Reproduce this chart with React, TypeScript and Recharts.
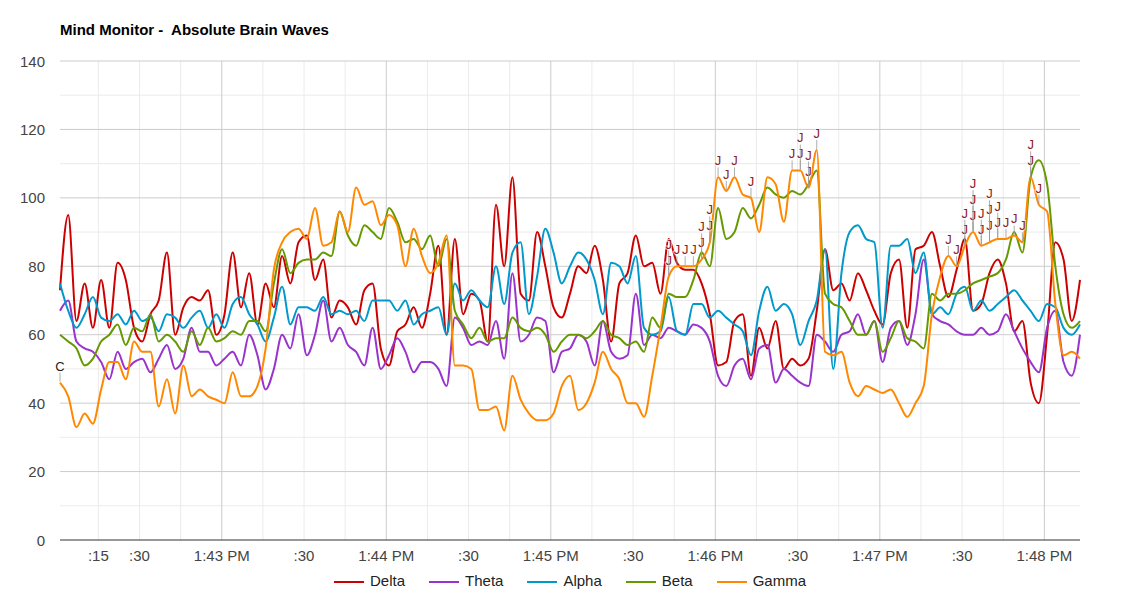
import React from "react";
import { LineChart, Line, XAxis, YAxis, CartesianGrid } from "recharts";

// ---- Data (one sample every 3 s, starting 1:42:01 PM) ----
const startSecond = 1; // seconds after 1:42:00 PM
const stepSeconds = 3;

const deltaValues = [
  73, 95, 64, 75, 62, 76, 62, 81, 76, 62,
  58, 66, 70, 84, 60, 68, 71, 70, 73, 60,
  66, 84, 68, 78, 63, 75, 68, 83, 75, 87,
  89, 76, 82, 65, 70, 68, 63, 73, 75, 56,
  51, 61, 63, 68, 62, 72, 86, 60, 88, 66,
  72, 70, 58, 98, 80, 106, 72, 70, 90, 80,
  68, 65, 72, 80, 78, 86, 76, 58, 75, 78,
  89, 80, 81, 72, 88, 81, 79, 79, 75, 66,
  51, 52, 64, 66, 48, 62, 56, 64, 50, 53,
  51, 53, 67, 85, 73, 75, 70, 78, 73, 67,
  63, 78, 82, 62, 85, 86, 90, 80, 71, 79,
  88, 67, 69, 78, 82, 75, 61, 64, 46, 40,
  60, 87, 82, 64, 76,
];

const thetaValues = [
  67, 70, 58, 56, 55, 52, 47, 55, 50, 52,
  53, 49, 53, 57, 50, 53, 62, 55, 55, 51,
  53, 55, 51, 60, 54, 44, 50, 60, 56, 66,
  54, 60, 70, 58, 62, 57, 55, 51, 62, 50,
  54, 59, 55, 49, 52, 52, 50, 45, 65, 62,
  57, 58, 57, 64, 53, 78, 58, 60, 65, 64,
  49, 55, 56, 60, 58, 51, 64, 55, 53, 54,
  72, 57, 60, 59, 62, 61, 60, 63, 62, 58,
  48, 45, 51, 53, 47, 56, 57, 46, 50, 48,
  46, 45, 60, 58, 55, 60, 61, 66, 60, 64,
  52, 62, 64, 57, 66, 82, 66, 64, 63, 61,
  60, 60, 62, 60, 61, 66, 61, 56, 52, 49,
  62, 67, 52, 48, 60,
];

const alphaValues = [
  75, 67, 62, 66, 71, 65, 64, 66, 63, 67,
  64, 65, 61, 66, 65, 62, 65, 67, 62, 66,
  62, 69, 71, 66, 63, 58, 65, 74, 63, 68,
  68, 67, 71, 66, 67, 66, 67, 64, 70, 70,
  70, 67, 70, 63, 66, 67, 68, 60, 75, 70,
  73, 70, 68, 80, 69, 84, 87, 66, 77, 91,
  84, 75, 80, 84, 82, 76, 66, 81, 80, 75,
  83, 62, 60, 61, 71, 61, 60, 69, 69, 65,
  67, 65, 63, 61, 54, 67, 74, 67, 69, 66,
  57, 64, 70, 85, 50, 78, 90, 92, 88, 87,
  62, 86, 86, 88, 78, 84, 66, 68, 66, 72,
  74, 67, 70, 67, 69, 71, 73, 70, 67, 64,
  69, 68, 62, 60, 63,
];

const betaValues = [
  60, 58, 56, 51, 53, 58, 60, 63, 57, 62,
  61, 66, 58, 60, 58, 55, 61, 57, 62, 58,
  59, 61, 60, 64, 64, 61, 75, 85, 78, 81,
  82, 82, 84, 83, 96, 89, 86, 92, 90, 88,
  97, 93, 87, 88, 85, 89, 80, 88, 67, 63,
  59, 62, 58, 59, 59, 65, 62, 61, 62, 60,
  55, 58, 60, 60, 59, 61, 64, 60, 59, 57,
  58, 55, 65, 62, 72, 71, 71, 76, 84, 80,
  97, 88, 90, 97, 94, 98, 103, 101, 100, 102,
  101, 104, 108, 72, 69, 68, 64, 60, 60, 64,
  55, 59, 64, 59, 58, 56, 72, 70, 72, 72,
  73, 75, 76, 77, 78, 82, 90, 84, 106, 111,
  104, 80, 66, 62, 64,
];

const gammaValues = [
  46, 42, 33, 37, 34, 44, 52, 52, 47, 58,
  55, 55, 39, 47, 37, 51, 42, 44, 42, 41,
  40, 49, 42, 42, 45, 56, 79, 87, 90, 91,
  88, 97, 86, 87, 96, 90, 103, 98, 99, 92,
  95, 92, 80, 91, 83, 78, 81, 89, 51, 51,
  50, 38, 38, 39, 32, 48, 41, 37, 35, 35,
  37, 45, 48, 38, 40, 46, 55, 50, 47, 40,
  40, 36, 48, 62, 77, 80, 80, 80, 82, 87,
  106, 102, 106, 101, 100, 90, 106, 104, 93, 108,
  108, 103, 114, 55, 54, 55, 46, 42, 45, 44,
  43, 44, 40, 36, 40, 45, 66, 77, 83, 80,
  86, 90, 86, 87, 88, 88, 89, 87, 106, 98,
  96, 69, 54, 55, 53,
];

// Marker annotations (sample index on the Gamma line, label)
const markerIndices = [
  0,
  74, 74, 75, 76, 77, 78, 78, 79, 79, 80, 81, 82, 84,
  89, 90, 90, 91, 91, 92,
  108, 109, 110, 110, 111, 111, 111, 112, 112, 113, 113, 113,
  114, 114, 115, 116, 117, 118, 118, 119,
];
const markerTexts = [
  "C",
  "J", "J", "J", "J", "J", "J", "J", "J", "J", "J", "J", "J", "J",
  "J", "J", "J", "J", "J", "J",
  "J", "J", "J", "J", "J", "J", "J", "J", "J", "J", "J", "J",
  "J", "J", "J", "J", "J", "J", "J", "J",
];

const seriesNames = ["Delta", "Theta", "Alpha", "Beta", "Gamma"];
const seriesKeys = ["delta", "theta", "alpha", "beta", "gamma"];
const seriesColors = ["#cc0000", "#9933cc", "#0099cc", "#669900", "#ff8800"];
const seriesValues = [deltaValues, thetaValues, alphaValues, betaValues, gammaValues];

const xTickValues = [15, 30, 60, 90, 120, 150, 180, 210, 240, 270, 300, 330, 360];
const xTickLabels = [":15", ":30", "1:43 PM", ":30", "1:44 PM", ":30", "1:45 PM", ":30", "1:46 PM", ":30", "1:47 PM", ":30", "1:48 PM"];
const xMajorGrid = [60, 120, 180, 240, 300, 360];
const xMinorGrid = [15, 30, 45, 75, 90, 105, 135, 150, 165, 195, 210, 225, 255, 270, 285, 315, 330, 345];
const yTickValues = [0, 20, 40, 60, 80, 100, 120, 140];
const yMinorGrid = [10, 30, 50, 70, 90, 110, 130];

const noteColors: Record<string, string> = { C: "#222222", J: "#8b2222" };

const FONT = "Arial, 'Liberation Sans', sans-serif";

type Row = { [k: string]: any };

const rows: Row[] = deltaValues.map((_, i) => {
  const row: Row = { t: startSecond + i * stepSeconds };
  seriesKeys.forEach((k, s) => {
    row[k] = seriesValues[s][i];
  });
  const notes = markerTexts.filter((_, m) => markerIndices[m] === i);
  row.notes = notes;
  row.noteY = notes.length ? gammaValues[i] : null;
  return row;
});

const tickLabelFor = (v: number) => {
  const idx = xTickValues.indexOf(v);
  return idx >= 0 ? xTickLabels[idx] : "";
};

const XTick = (props: any) => {
  const { x, y, payload } = props;
  return (
    <text x={x} y={y + 15} textAnchor="middle" dominantBaseline="central" fontSize={15} fontFamily={FONT} fill="#444">
      {tickLabelFor(payload.value)}
    </text>
  );
};

const YTick = (props: any) => {
  const { x, y, payload } = props;
  return (
    <text x={x - 15} y={y} textAnchor="end" dominantBaseline="central" fontSize={15} fontFamily={FONT} fill="#444">
      {payload.value}
    </text>
  );
};

const renderNotes = (props: any) => {
  const { cx, cy, payload, index } = props;
  if (cx == null || cy == null || !payload || !payload.notes || payload.notes.length === 0) {
    return <g key={`note-${index}`} />;
  }
  return (
    <g key={`note-${index}`}>
      {payload.notes.map((txt: string, k: number) => {
        const stem = 10 + k * 16;
        return (
          <g key={k}>
            <line x1={cx} y1={cy - 1} x2={cx} y2={cy - stem} stroke="#999" strokeOpacity={0.8} strokeWidth={1} />
            <text
              x={cx}
              y={cy - stem - 2}
              textAnchor="middle"
              fontSize={13}
              fontFamily={FONT}
              fill={noteColors[txt] || "#222"}
              stroke="#ffffff"
              strokeWidth={2}
              strokeOpacity={0.7}
              paintOrder="stroke"
            >
              {txt}
            </text>
          </g>
        );
      })}
    </g>
  );
};

const LegendRow = () => (
  <div
    style={{
      position: "absolute",
      top: 572,
      left: 0,
      width: 1140,
      height: 18,
      display: "flex",
      justifyContent: "center",
      alignItems: "center",
      fontFamily: FONT,
      fontSize: 15,
      color: "#222",
    }}
  >
    {seriesNames.map((name, s) => (
      <div key={name} style={{ display: "flex", alignItems: "center", marginLeft: s === 0 ? 0 : 24 }}>
        <div style={{ width: 30, height: 2, background: seriesColors[s], marginRight: 6, marginTop: 1 }} />
        <span style={{ lineHeight: "18px" }}>{name}</span>
      </div>
    ))}
  </div>
);

export default function App() {
  return (
    <div style={{ position: "absolute", left: 0, top: 0, width: 1140, height: 600, background: "#fff" }}>
      <div
        style={{
          position: "absolute",
          left: 60,
          top: 23,
          fontFamily: FONT,
          fontSize: 15,
          fontWeight: "bold",
          lineHeight: "14px",
          whiteSpace: "pre",
          color: "#000",
        }}
      >
        {"Mind Monitor -  Absolute Brain Waves"}
      </div>
      <LineChart width={1140} height={600} data={rows} margin={{ top: 61, right: 60, bottom: 0, left: 0 }}>
        <CartesianGrid
          stroke="#ebebeb"
          strokeWidth={1}
          horizontalValues={yMinorGrid}
          verticalValues={xMinorGrid}
        />
        <CartesianGrid
          stroke="#cccccc"
          strokeWidth={1}
          horizontalValues={yTickValues.filter((v) => v !== 0)}
          verticalValues={xMajorGrid}
        />
        <XAxis
          dataKey="t"
          type="number"
          domain={[startSecond, startSecond + (deltaValues.length - 1) * stepSeconds]}
          ticks={xTickValues}
          tick={<XTick />}
          tickLine={false}
          tickSize={0}
          tickMargin={0}
          axisLine={{ stroke: "#333", strokeWidth: 1 }}
          height={60}
          interval={0}
        />
        <YAxis
          type="number"
          domain={[0, 140]}
          ticks={yTickValues}
          tick={<YTick />}
          tickLine={false}
          tickSize={0}
          tickMargin={0}
          axisLine={false}
          width={60}
          interval={0}
        />
        {seriesKeys.map((k, s) => (
          <Line
            key={k}
            type="monotone"
            dataKey={k}
            name={seriesNames[s]}
            stroke={seriesColors[s]}
            strokeWidth={2}
            dot={false}
            activeDot={false}
            isAnimationActive={false}
          />
        ))}
        <Line
          type="monotone"
          dataKey="noteY"
          stroke="none"
          dot={renderNotes}
          activeDot={false}
          legendType="none"
          connectNulls={false}
          isAnimationActive={false}
        />
      </LineChart>
      <LegendRow />
    </div>
  );
}
